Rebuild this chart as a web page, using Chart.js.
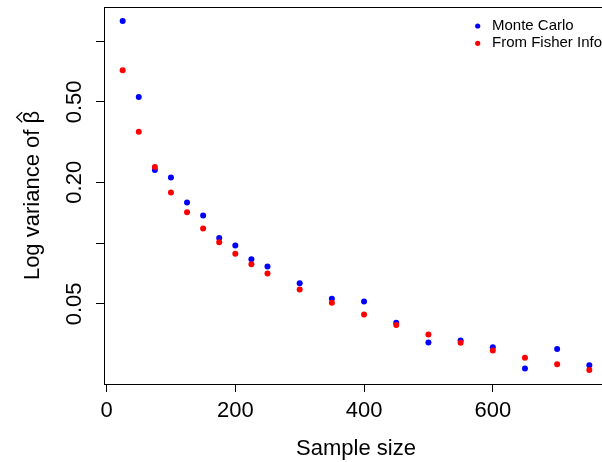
<!DOCTYPE html>
<html lang="en">
<head>
  <meta charset="UTF-8" />
  <title>Log variance of beta-hat</title>
  <script src="https://cdn.jsdelivr.net/npm/chart.js"></script>
  <style>
    html, body { margin: 0; padding: 0; background: #fff; overflow: hidden; }
    #wrap { width: 602px; height: 462px; overflow: hidden; }
  </style>
</head>
<body>
  <div id="wrap">
    <canvas id="varChart" width="612" height="462"></canvas>
  </div>

  <script>
    // sample sizes
    const sampleSizes = [25, 50, 75, 100, 125, 150, 175, 200, 225, 250, 300, 350, 400, 450, 500, 550, 600, 650, 700, 750];
    // variance of beta-hat, Monte Carlo estimate
    const monteCarlo = [1.259, 0.529, 0.230, 0.211, 0.159, 0.137, 0.106, 0.0972, 0.0831, 0.0765,
                        0.0632, 0.0530, 0.0513, 0.0403, 0.0322, 0.0329, 0.0305, 0.0239, 0.0299, 0.0248];
    // variance from the Fisher information
    const fisherInfo = [0.717, 0.356, 0.238, 0.178, 0.142, 0.118, 0.101, 0.0884, 0.0785, 0.0706,
                        0.0589, 0.0506, 0.0443, 0.0393, 0.0352, 0.0321, 0.0294, 0.0270, 0.0251, 0.0235];
    const xTicks = [0, 200, 400, 600];
    const yTicks = [0.05, 0.1, 0.2, 0.5, 1];
    const yTickLabels = { 0.05: '0.05', 0.2: '0.20', 0.5: '0.50' };

    const FONT = '"Liberation Sans", Arial, sans-serif';
    const Y_TITLE = 'Log variance of β';

    const toPoints = (ys) => sampleSizes.map((x, i) => ({ x: x, y: ys[i] }));

    // box around the plot region, like R's box()
    const boxPlugin = {
      id: 'box',
      afterDatasetsDraw(chart) {
        const a = chart.chartArea, ctx = chart.ctx;
        ctx.save();
        ctx.strokeStyle = '#000';
        ctx.lineWidth = 1;
        ctx.strokeRect(Math.round(a.left) + 0.5, Math.round(a.top) + 0.5,
                       Math.round(a.right - a.left), Math.round(a.bottom - a.top));
        ctx.restore();
      }
    };

    // the hat over beta in the y title
    const hatPlugin = {
      id: 'betaHat',
      afterDraw(chart) {
        const s = chart.scales.y, ctx = chart.ctx;
        ctx.save();
        ctx.font = '22px ' + FONT;
        const full = ctx.measureText(Y_TITLE).width;
        const beta = ctx.measureText('β').width;
        const cx = s.left + 20 + 22 * 1.2 / 2;
        const cy = (s.top + s.bottom) / 2;
        const by = cy - full / 2 + beta / 2;
        ctx.strokeStyle = '#000';
        ctx.lineWidth = 1.3;
        ctx.beginPath();
        ctx.moveTo(cx - 11, by - 5);
        ctx.lineTo(cx - 16.5, by);
        ctx.lineTo(cx - 11, by + 5);
        ctx.stroke();
        ctx.restore();
      }
    };

    // legend in the top right corner, no frame
    const legendPlugin = {
      id: 'rLegend',
      afterDraw(chart) {
        const a = chart.chartArea, ctx = chart.ctx;
        ctx.save();
        ctx.font = '15px ' + FONT;
        ctx.textBaseline = 'middle';
        chart.data.datasets.forEach((ds, i) => {
          const y = a.top + 19 + i * 17.3;
          ctx.fillStyle = ds.backgroundColor;
          ctx.beginPath();
          ctx.arc(a.left + 373.7, y, 2.6, 0, Math.PI * 2);
          ctx.fill();
          ctx.fillStyle = '#000';
          ctx.fillText(ds.label, a.left + 388, y);
        });
        ctx.restore();
      }
    };

    new Chart(document.getElementById('varChart'), {
      type: 'scatter',
      data: {
        datasets: [
          {
            label: 'Monte Carlo',
            data: toPoints(monteCarlo),
            backgroundColor: '#0000ff',
            borderWidth: 0,
            pointRadius: 3,
            order: 1
          },
          {
            label: 'From Fisher Info',
            data: toPoints(fisherInfo),
            backgroundColor: '#ff0000',
            borderWidth: 0,
            pointRadius: 3,
            order: 0
          }
        ]
      },
      options: {
        responsive: false,
        animation: false,
        layout: { padding: { top: 7, right: 3, left: 0, bottom: 0 } },
        plugins: { legend: { display: false }, tooltip: { enabled: false } },
        scales: {
          x: {
            type: 'linear',
            min: -4,
            max: 779,
            afterBuildTicks: (s) => { s.ticks = xTicks.map(v => ({ value: v })); },
            afterFit: (s) => { s.height = 78; s.paddingLeft = 0; s.paddingRight = 0; },
            border: { display: false },
            grid: { drawOnChartArea: false, drawTicks: true, tickLength: 8, color: '#000', lineWidth: 1 },
            ticks: { color: '#000', font: { family: FONT, size: 22 }, padding: 6, maxRotation: 0 },
            title: { display: true, text: 'Sample size', color: '#000',
                     font: { family: FONT, size: 22 }, padding: { top: 0, bottom: 0 } }
          },
          y: {
            type: 'logarithmic',
            min: 0.02004,
            max: 1.476,
            afterBuildTicks: (s) => { s.ticks = yTicks.map(v => ({ value: v })); },
            afterFit: (s) => { s.width = 104; s.paddingTop = 0; s.paddingBottom = 0; },
            border: { display: false },
            grid: { drawOnChartArea: false, drawTicks: true, tickLength: 8, color: '#000', lineWidth: 1 },
            ticks: {
              color: '#000',
              font: { family: FONT, size: 22 },
              padding: 0,
              minRotation: 90,
              maxRotation: 90,
              crossAlign: 'center',
              callback: (v) => yTickLabels[v] || ''
            },
            title: { display: true, text: Y_TITLE, color: '#000',
                     font: { family: FONT, size: 22 }, padding: { top: 20, bottom: 0 } }
          }
        }
      },
      plugins: [boxPlugin, hatPlugin, legendPlugin]
    });
  </script>
</body>
</html>
